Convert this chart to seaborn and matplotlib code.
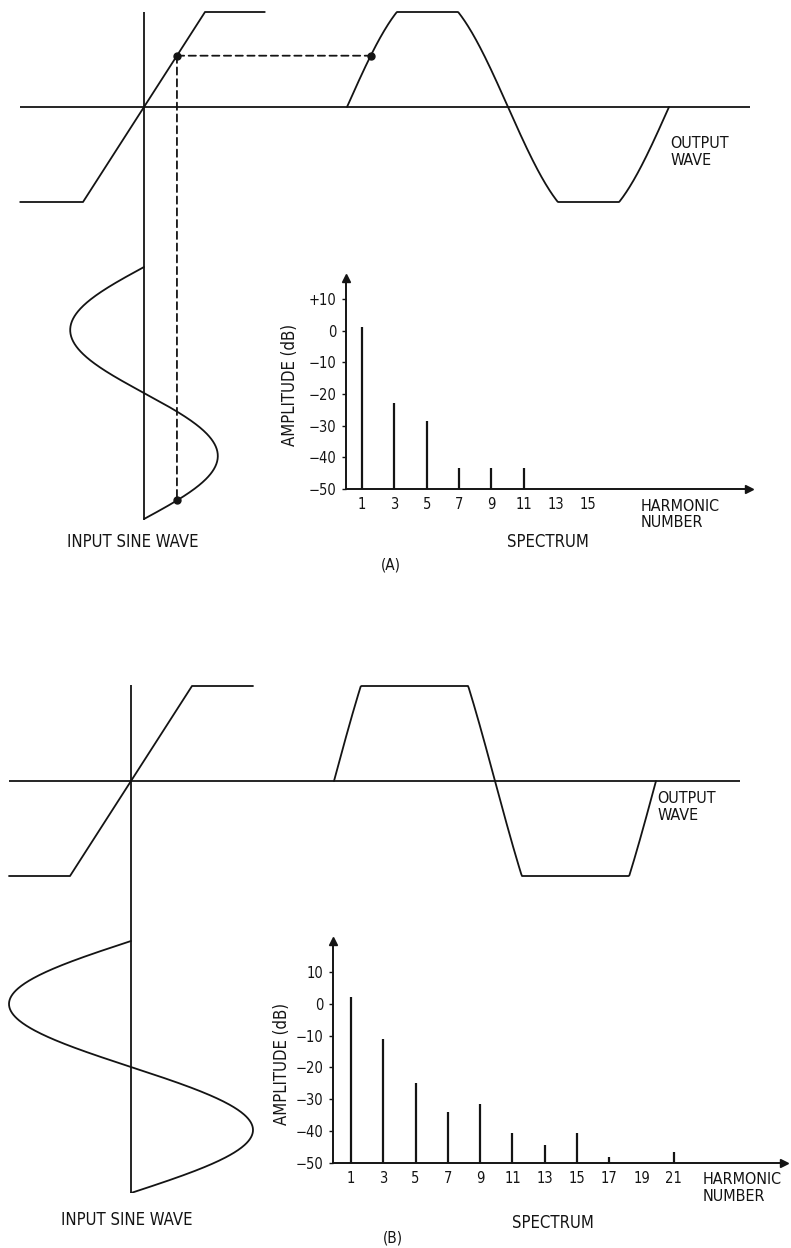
import numpy as np
import matplotlib
matplotlib.use("Agg")
import matplotlib.pyplot as plt
import seaborn as sns
from matplotlib.patches import ConnectionPatch

# transfer characteristic: input level -> output level (clip level = 1)
transfer_in_a = [-2.03, -1.0, 1.0, 1.98]
transfer_out_a = [-1.0, -1.0, 1.0, 1.0]
transfer_in_b = [-2.0, -1.0, 1.0, 2.0]
transfer_out_b = [-1.0, -1.0, 1.0, 1.0]

# input sine amplitude relative to the clip level
amp_a = 1.21
amp_b = 2.0
probe_a = 0.54  # level of the dashed projection in (A)

# spectra (dB)
harm_a = [1, 3, 5, 7, 9, 11]
db_a = [1, -23, -28.5, -43.5, -43.5, -43.5]
xticks_a = [1, 3, 5, 7, 9, 11, 13, 15]
harm_b = [1, 3, 5, 7, 9, 11, 13, 15, 17, 21]
db_b = [2, -11, -25, -34, -31.5, -40.5, -44.5, -40.5, -48, -46.5]
xticks_b = [1, 3, 5, 7, 9, 11, 13, 15, 17, 19, 21]
yticks = [10, 0, -10, -20, -30, -40, -50]
ylabels_a = ["+10", "0", "\u221210", "\u221220", "\u221230", "\u221240", "\u221250"]
ylabels_b = ["10", "0", "\u221210", "\u221220", "\u221230", "\u221240", "\u221250"]

sns.set_style("white")
plt.rcParams["font.family"] = ["DejaVu Sans"]
plt.rcParams["font.stretch"] = "condensed"
INK = "#141414"
FS = 12      # labels
FS_T = 10.5  # tick labels

W, H = 791, 1248
fig = plt.figure(figsize=(W / 100, H / 100), dpi=100)

IN_PX = 61.0    # px per input unit
OUT_PX = 95.0   # px per output unit
PH_IN = 252 / (2 * np.pi)
PH_OUT = 322 / (2 * np.pi)


def px_axes(x0, y0, x1, y1):
    ax = fig.add_axes([x0 / W, 1 - y1 / H, (x1 - x0) / W, (y1 - y0) / H])
    ax.set_facecolor("none")
    ax.axis("off")
    return ax


def wave_panel(org, top, bot, vtop, vbot, in_y0, out_x0, out_x1, out_t0,
               amp, tr_in, tr_out, label_y, probe=None):
    ox, oy = org
    ylim = ((oy - bot) / OUT_PX, (oy - top) / OUT_PX)
    xlim_in = ((0 - ox) / IN_PX, (290 - ox) / IN_PX)

    ax_tr = px_axes(0, top, 290, bot)
    ax_tr.set_xlim(*xlim_in)
    ax_tr.set_ylim(*ylim)
    sns.lineplot(x=tr_in, y=tr_out, ax=ax_tr, color=INK, lw=1.3, sort=False, estimator=None)

    ax_in = px_axes(0, vtop, 290, vbot)
    ax_in.set_xlim(*xlim_in)
    ax_in.set_ylim((vbot - in_y0) / PH_IN, (vtop - in_y0) / PH_IN)
    t = np.linspace(0, 2 * np.pi, 400)
    ax_in.axvline(0, color=INK, lw=1.3)
    sns.lineplot(x=-amp * np.sin(t), y=t, ax=ax_in, color=INK, lw=1.3,
                 sort=False, estimator=None)

    ax_out = px_axes(out_x0, top, out_x1, bot)
    ax_out.set_xlim((out_x0 - out_t0) / PH_OUT, (out_x1 - out_t0) / PH_OUT)
    ax_out.set_ylim(*ylim)
    ax_out.axhline(0, color=INK, lw=1.3)
    sns.lineplot(x=t, y=np.clip(amp * np.sin(t), -1, 1), ax=ax_out, color=INK,
                 lw=1.3, sort=False, estimator=None)
    ax_out.text(2 * np.pi + 0.03, label_y, "OUTPUT\nWAVE", fontsize=11.5, color=INK,
                ha="left", va="top", linespacing=1.1)

    if probe is not None:
        tp = np.arcsin(probe / amp)
        for a, b, ca, cb in [((probe, probe), (tp, probe), ax_tr, ax_out),
                             ((probe, probe), (probe, 2 * np.pi - tp), ax_tr, ax_in)]:
            con = ConnectionPatch(xyA=a, coordsA=ca.transData, xyB=b, coordsB=cb.transData,
                                  color=INK, lw=1.3, linestyle=(0, (4, 2.5)))
            fig.add_artist(con)
        ax_tr.plot(probe, probe, "o", color=INK, ms=5)
        ax_out.plot(tp, probe, "o", color=INK, ms=5)
        ax_in.plot(probe, 2 * np.pi - tp, "o", color=INK, ms=5)
    return ax_in


def spectrum(x0, y0, x1, y1, xlim, ylim, harm, db, xticks, ylabels, ylab_xy, hn_xy, sp_xy, tag, tag_xy):
    ax = fig.add_axes([x0 / W, 1 - y1 / H, (x1 - x0) / W, (y1 - y0) / H])
    ax.set_facecolor("none")
    ax.set_xlim(*xlim)
    ax.set_ylim(*ylim)
    for s in ["top", "right"]:
        ax.spines[s].set_visible(False)
    for s in ["left", "bottom"]:
        ax.spines[s].set_color(INK)
        ax.spines[s].set_linewidth(1.4)
    ax.vlines(harm, -50, db, color=INK, lw=1.6)
    ax.set_xticks(xticks)
    ax.set_xticklabels([str(v) for v in xticks])
    ax.set_yticks(yticks)
    ax.set_yticklabels(ylabels)
    ax.tick_params(axis="x", length=0, pad=6, labelsize=FS_T, colors=INK)
    ax.tick_params(axis="y", length=3, width=1, pad=4, labelsize=FS_T, colors=INK, left=True)
    ax.plot(0, 1, "^", color=INK, ms=6, transform=ax.transAxes, clip_on=False)
    ax.plot(1, 0, ">", color=INK, ms=6, transform=ax.transAxes, clip_on=False)
    ax.set_ylabel("AMPLITUDE (dB)", fontsize=FS, color=INK)
    ax.yaxis.set_label_coords(*ylab_xy)
    ax.text(*hn_xy, "HARMONIC\nNUMBER", transform=ax.transAxes, fontsize=11.5,
            color=INK, ha="left", va="center", linespacing=1.15)
    ax.text(*sp_xy, "SPECTRUM", transform=ax.transAxes, fontsize=FS, color=INK,
            ha="center", va="center")
    ax.text(*tag_xy, tag, transform=ax.transAxes, fontsize=11, color=INK,
            ha="center", va="center")


# panel (A)
wave_panel((144, 107), 0, 230, 12, 520, 267, 20, 750, 347, amp_a,
           transfer_in_a, transfer_out_a, -0.31, probe=probe_a)
fig.text(133 / W, 1 - 542 / H, "INPUT SINE WAVE", fontsize=FS, color=INK,
         ha="center", va="center")
spectrum(346, 278, 749, 489, (0, 24.97), (-50, 16.6), harm_a, db_a, xticks_a, ylabels_a,
         (-0.116, 0.495), (0.731, -0.121), (0.5, -0.252), "(A)", (0.112, -0.358))

# panel (B)
wave_panel((131, 781), 670, 900, 685, 1193, 941, 9, 740, 334, amp_b,
           transfer_in_b, transfer_out_b, -0.11)
fig.text(127 / W, 1 - 1220 / H, "INPUT SINE WAVE", fontsize=FS, color=INK,
         ha="center", va="center")
spectrum(333, 941, 784, 1163, (-0.115, 27.82), (-50, 19.7), harm_b, db_b, xticks_b, ylabels_b,
         (-0.094, 0.448), (0.82, -0.113), (0.487, -0.27), "(B)", (0.133, -0.338))

fig.savefig("out.png", dpi=100, facecolor="white")
